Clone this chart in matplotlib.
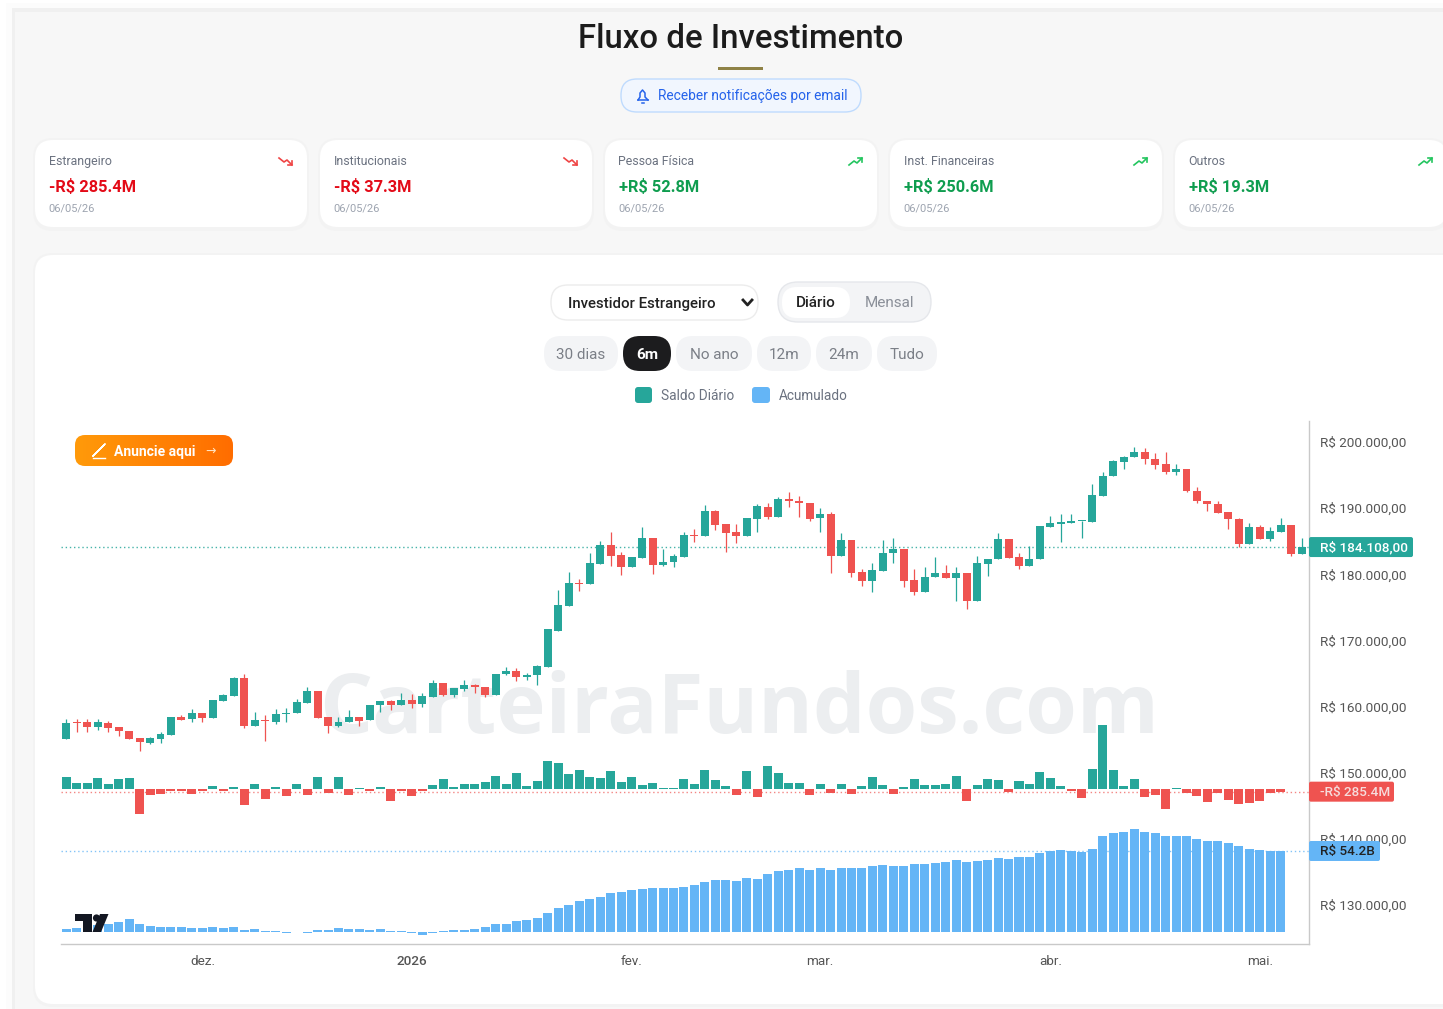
import numpy as np
import matplotlib
matplotlib.use('Agg')
import matplotlib.pyplot as plt
from matplotlib.patches import FancyBboxPatch, Rectangle, Circle, Polygon
from matplotlib.ticker import FuncFormatter
from matplotlib.colors import LinearSegmentedColormap

plt.rcParams['font.family'] = ['Roboto', 'DejaVu Sans']

# candles, R$ thousands
opens = [155.03,157.65,157.60,156.89,157.55,156.84,156.34,155.18,154.48,155.03,155.69,158.41,158.05,158.96,158.26,160.88,161.53,164.25,157.10,158.00,
         157.70,158.86,159.01,160.52,162.39,158.41,157.05,157.60,158.36,157.90,160.22,160.78,160.17,160.98,160.32,161.48,163.55,161.73,162.69,163.20,
         162.99,161.73,164.91,165.41,164.51,164.71,166.00,171.47,175.25,178.68,178.47,181.60,184.47,182.91,181.10,182.46,185.48,181.40,181.80,182.66,
         185.98,185.73,189.61,187.55,186.39,185.73,188.30,190.22,188.60,191.33,191.13,190.82,188.45,189.06,182.81,185.13,180.29,179.03,180.54,183.21,
         183.77,179.13,177.32,179.59,180.15,179.44,180.15,175.96,181.61,182.27,185.29,182.57,181.31,182.27,187.20,187.61,187.76,188.01,187.96,191.89,
         194.81,197.03,197.69,198.49,197.43,196.63,195.52,195.92,192.65,191.13,190.58,189.42,188.41,184.53,187.20,185.39,186.45,187.51,183.02]
closes = [157.55,157.55,156.89,157.60,156.74,156.24,155.03,154.58,155.18,155.84,158.41,157.90,158.96,158.26,160.98,161.68,164.25,157.05,158.00,157.80,
          158.91,159.06,160.63,162.39,158.26,157.05,157.70,158.41,157.85,160.27,160.78,160.17,160.98,160.32,161.63,163.55,161.73,162.84,163.20,162.94,
          161.68,164.91,165.41,164.51,164.76,166.07,171.66,175.35,178.63,178.47,181.75,184.47,182.81,181.10,182.61,185.48,181.45,181.85,182.76,185.98,
          185.73,189.61,187.45,186.29,185.73,188.45,190.32,188.66,191.33,191.07,190.72,188.40,189.06,182.81,185.13,180.24,179.03,180.64,183.26,183.82,
          179.03,177.32,179.63,180.15,179.39,180.15,175.96,181.66,182.37,185.29,182.42,181.31,182.37,187.30,187.71,187.91,188.06,188.11,191.99,194.92,
          197.18,197.79,198.54,197.38,196.53,195.47,195.97,192.55,191.03,190.58,189.32,188.31,184.53,187.20,185.39,186.50,187.51,183.02,184.11]
highs = [158.10,158.05,158.16,158.16,157.80,156.84,156.34,155.18,155.43,156.14,158.41,158.71,159.57,159.06,160.98,161.83,164.40,164.91,159.11,158.71,
         159.57,159.72,161.18,162.89,162.39,158.41,158.41,159.42,158.36,160.27,160.88,160.98,161.99,161.83,161.99,164.05,163.55,162.84,164.05,163.40,
         162.99,164.91,165.92,165.77,165.01,166.32,171.66,177.62,180.29,179.28,183.26,184.98,186.39,183.41,182.61,187.19,185.48,183.82,183.06,186.34,
         186.84,190.47,189.71,187.55,187.55,188.55,190.57,190.72,191.73,192.49,191.88,190.82,189.97,189.36,186.19,185.13,180.79,181.75,185.13,185.53,
         183.77,180.84,181.05,182.57,181.41,181.05,180.15,182.77,182.37,186.18,185.29,183.27,184.28,187.30,188.87,189.07,189.07,188.11,193.60,195.42,
         197.28,197.89,199.20,199.05,198.29,198.54,196.68,195.92,193.25,191.13,191.13,189.42,188.51,187.71,187.51,187.20,188.56,187.51,185.44]
lows = [155.03,156.19,156.19,156.39,156.19,155.53,155.03,153.32,154.33,154.53,155.69,157.90,157.70,157.70,158.26,160.88,161.53,156.74,157.10,154.83,
        157.35,157.70,159.01,160.52,158.26,156.04,156.95,157.60,157.05,157.90,159.11,159.42,160.17,159.77,159.97,161.48,161.58,161.48,162.39,162.09,
        161.48,161.73,164.76,163.80,164.00,163.25,166.00,171.47,175.25,177.52,178.47,181.60,181.25,179.89,181.10,182.46,180.04,181.30,181.05,182.66,
        184.88,185.73,186.69,183.31,184.67,185.73,186.44,188.35,188.60,190.12,188.60,188.10,186.44,180.14,182.81,179.53,178.27,177.27,180.54,181.75,
        178.12,176.91,177.32,179.59,179.39,175.96,174.70,175.96,179.74,182.27,182.42,180.75,181.31,182.27,187.20,184.84,187.76,185.54,187.96,191.89,
        194.81,195.97,197.69,196.68,195.97,195.22,195.02,192.40,190.73,189.62,189.32,186.85,184.13,184.53,185.29,185.04,186.45,182.72,183.02]

# saldo diario, R$ millions
saldo = [1285,678,678,1142,536,1035,1142,-2678,-643,-500,-250,-250,-500,-250,321,-179,179,-1714,536,-1107,
         179,-750,536,-643,1285,-393,1285,-643,71,-179,179,-1250,-179,-750,-250,428,1035,179,536,536,
         785,1392,536,1749,321,893,2963,2820,1642,2035,1250,1142,1892,785,1250,428,678,107,107,1035,
         571,2035,928,321,-643,1892,-893,2499,1749,678,678,-643,571,-393,571,-536,321,1250,428,-536,
         214,1035,428,428,571,1392,-1250,428,1035,928,-286,821,571,1785,1178,321,-214,-1000,2106,6890,
         2035,321,1035,-893,-643,-2106,107,-393,-785,-1392,-393,-1142,-1642,-1499,-1250,-393,-285.4]

# acumulado, R$ billions
acumulado = [2.0,2.9,3.6,4.7,5.6,6.5,8.5,5.1,4.2,3.6,3.6,3.6,2.9,2.9,3.6,2.9,3.6,1.6,2.2,0.7,
             0.7,-0.9,-0.2,-0.9,1.6,1.6,2.9,2.2,2.2,1.6,2.2,0.7,0.7,-0.9,-1.8,-0.9,0.7,1.6,1.6,2.2,
             3.6,5.1,5.1,7.4,8.3,9.1,12.7,16.1,18.3,20.5,22.1,23.6,25.9,26.8,28.1,28.8,29.7,29.7,29.7,30.3,
             31.2,33.5,35.0,35.0,34.1,36.3,35.7,38.8,41.0,41.7,42.6,41.7,42.6,41.7,42.6,42.6,42.6,44.2,44.8,44.2,
             44.2,45.5,45.5,45.9,46.6,48.4,46.6,47.5,48.2,49.7,49.1,50.4,50.4,52.9,54.2,55.1,54.4,53.7,55.8,64.0,
             66.2,67.1,68.7,67.1,66.2,64.0,64.0,64.0,62.4,61.1,61.1,59.3,57.8,55.8,55.1,54.2,54.2]

price_ticks = [130, 140, 150, 160, 170, 180, 190, 200]
month_pos = [13, 33, 54, 72, 94, 114]
month_labels = ['dez.', '2026', 'fev.', 'mar.', 'abr.', 'mai.']

last_price = 184.108
last_saldo = -285.4
last_acum = 54.2

card_names = ['Estrangeiro', 'Institucionais', 'Pessoa Física', 'Inst. Financeiras', 'Outros']
card_values = ['-R$ 285.4M', '-R$ 37.3M', '+R$ 52.8M', '+R$ 250.6M', '+R$ 19.3M']
card_date = '06/05/26'
range_labels = ['30 dias', '6m', 'No ano', '12m', '24m', 'Tudo']

GREEN = '#26a69a'
RED = '#ef5350'
BLUE = '#64b5f6'

W, H = 1443, 1009
fig = plt.figure(figsize=(W / 100, H / 100), dpi=100, facecolor='white')


def pixel_axes(z):
    a = fig.add_axes([0, 0, 1, 1], zorder=z)
    a.set_xlim(0, W)
    a.set_ylim(H, 0)
    a.axis('off')
    a.patch.set_alpha(0)
    return a


def box(a, x0, y0, x1, y1, r, fc, ec='none', lw=1, z=1):
    p = FancyBboxPatch((x0, y0), x1 - x0, y1 - y0, boxstyle='round,pad=0,rounding_size=%s' % r,
                       fc=fc, ec=ec, lw=lw, zorder=z)
    a.add_patch(p)
    return p


ui = pixel_axes(0)
over = pixel_axes(6)

# page background
ui.add_patch(Rectangle((6, 3), W, H, fc='#fcfcfc', ec='none', zorder=0))
ui.add_patch(Rectangle((12, 8), W, H, fc='#f0f0f0', ec='none', zorder=0))
ui.add_patch(Rectangle((15, 12), W, H, fc='#f7f7f7', ec='none', zorder=0))

ui.text(741, 39.5, 'Fluxo de Investimento', fontsize=23.8, color='#1c1c1c', ha='center', va='center', fontweight='medium')
ui.add_patch(Rectangle((718, 67), 45, 3, fc='#8f8246', ec='none'))

# notification button
box(ui, 621, 79, 861, 112, 16, '#f1f6fe', '#bfdbfe')
ui.text(658, 96, 'Receber notificações por email', fontsize=9.9, color='#2563eb', ha='left', va='center')
bell = [(638, 100), (640, 97), (640, 93), (642.5, 90), (645, 93), (645, 97), (648, 100)]
ui.plot([p[0] for p in bell], [p[1] for p in bell], color='#2563eb', lw=1.1)
ui.plot([638, 648], [100, 100], color='#2563eb', lw=1.1)
ui.plot([641.5, 643.5], [102.5, 102.5], color='#2563eb', lw=1.1)

# summary cards
card_lefts = [35, 320, 605, 890, 1175]
for left, name, value in zip(card_lefts, card_names, card_values):
    right = left + 272
    box(ui, left - 2, 138, right + 2, 231, 20, '#f3f3f3', z=1)
    box(ui, left, 140, right, 227, 18, 'white', z=2)
    down = value.startswith('-')
    col = '#e30a17' if down else '#0f9d4f'
    ui.text(left + 13.5, 161.5, name, fontsize=8.9, color='#6b7280', va='center', zorder=3)
    ui.text(left + 14, 186.5, value, fontsize=11.8, color=col, va='center', fontweight='bold', zorder=3)
    ui.text(left + 13.5, 208.5, card_date, fontsize=7.9, color='#9ca3af', va='center', zorder=3)
    ix = left + 244
    if down:
        ui.plot([ix, ix + 5, ix + 8, ix + 13], [158, 162, 160, 165], color='#ef4444', lw=1.2, zorder=3)
        ui.plot([ix + 13, ix + 13, ix + 9], [161, 165, 165], color='#ef4444', lw=1.2, zorder=3)
    else:
        ui.plot([ix, ix + 5, ix + 8, ix + 13], [165, 161, 163, 158], color='#22c55e', lw=1.2, zorder=3)
        ui.plot([ix + 9, ix + 13, ix + 13], [158, 158, 162], color='#22c55e', lw=1.2, zorder=3)

# main card
box(ui, 33, 253, W + 40, 1007, 20, '#f3f3f3', z=1)
box(ui, 35, 255, W + 40, 1004, 18, 'white', z=2)

# selector and toggle
box(ui, 551, 285, 758, 320, 17, 'white', '#ececec', z=3)
ui.text(568, 304, 'Investidor Estrangeiro', fontsize=10.8, color='#222222', va='center', zorder=4, fontweight='medium')
ui.plot([743, 747.5, 752], [300, 305, 300], color='#222222', lw=2, zorder=4)
box(ui, 778, 282, 931, 322, 20, '#f3f4f6', '#e5e7eb', z=3)
box(ui, 782, 287, 850, 318, 15, 'white', z=4)
ui.text(816, 303, 'Diário', fontsize=11, color='#222222', ha='center', va='center', zorder=5, fontweight='medium')
ui.text(889, 303, 'Mensal', fontsize=11, color='#8a8f98', ha='center', va='center', zorder=5)

# range pills
pill_x = [(544, 618), (623, 671), (676, 752), (757, 811), (816, 872), (877, 937)]
for (x0, x1), lab in zip(pill_x, range_labels):
    active = lab == '6m'
    box(ui, x0, 336, x1, 371, 17, '#1c1c1e' if active else '#f3f4f6', z=3)
    ui.text((x0 + x1) / 2, 355, lab, fontsize=11, color='white' if active else '#7b7f87', ha='center', va='center',
            fontweight='bold' if active else 'normal', zorder=4)

# legend
box(ui, 635, 387, 652, 403, 3, GREEN, z=3)
ui.text(661, 395.5, 'Saldo Diário', fontsize=9.8, color='#6b7280', va='center', zorder=4)
box(ui, 752, 387, 770, 403, 3, BLUE, z=3)
ui.text(779, 395.5, 'Acumulado', fontsize=9.8, color='#6b7280', va='center', zorder=4)

# watermark
ui.text(739, 711, 'CarteiraFundos.com', fontsize=60, color='#eceef0', ha='center', va='center', fontweight='bold', zorder=3,
        family='Open Sans')

# chart axes
rect = [61 / W, 1 - 944 / H, (1309 - 61) / W, (944 - 421) / H]
x_lim = (-0.506, 118.7)
ax_acum = fig.add_axes(rect, zorder=2)
ax_saldo = fig.add_axes(rect, zorder=3)
ax = fig.add_axes(rect, zorder=4)

ax_acum.set_ylim(-8.03, 341.9)
ax_saldo.set_ylim(-16600, 39413)
ax.set_ylim(124.05, 203.18)
for a in (ax_acum, ax_saldo, ax):
    a.set_xlim(*x_lim)
    a.patch.set_alpha(0)
for a in (ax_acum, ax_saldo):
    a.axis('off')

ax_acum.bar(np.arange(len(acumulado)), acumulado, width=0.86, color=BLUE, zorder=2)
ax_acum.axhline(last_acum, color=BLUE, lw=1, ls=(0, (1, 2)), alpha=0.8, zorder=1)

saldo_cols = [GREEN if v >= 0 else RED for v in saldo]
ax_saldo.bar(np.arange(len(saldo)), saldo, width=0.86, color=saldo_cols, zorder=2)
ax_saldo.axhline(last_saldo, color=RED, lw=1, ls=(0, (1, 2)), alpha=0.7, zorder=1)

ax.axhline(last_price, color=GREEN, lw=1, ls=(0, (1, 2)), alpha=0.85, zorder=1)
for i in range(len(opens)):
    col = GREEN if closes[i] >= opens[i] else RED
    ax.plot([i, i], [lows[i], highs[i]], color=col, lw=0.9, solid_capstyle='butt', zorder=2)
    ax.add_patch(Rectangle((i - 0.38, min(opens[i], closes[i])), 0.76, max(abs(closes[i] - opens[i]), 0.12),
                           fc=col, ec='none', zorder=3))

ax.yaxis.tick_right()
ax.set_yticks(price_ticks)
ax.yaxis.set_major_formatter(FuncFormatter(lambda v, p: 'R$ %d.000,00' % v))
ax.set_xticks(month_pos)
ax.set_xticklabels(month_labels)
ax.tick_params(axis='y', length=0, pad=8, labelsize=9.7, labelcolor='#555555')
ax.tick_params(axis='x', length=0, pad=8, labelsize=9.7, labelcolor='#555555')
ax.get_xticklabels()[1].set_fontweight('medium')
for s in ('top', 'left'):
    ax.spines[s].set_visible(False)
for s in ('right', 'bottom'):
    ax.spines[s].set_color('#c9c9c9')
    ax.spines[s].set_linewidth(1)

fig.canvas.draw()


def tag(axis, value, x1, text, bg, fg):
    yp = over.transData.inverted().transform(axis.transData.transform((0, value)))[1]
    over.add_patch(FancyBboxPatch((1309, yp - 10), x1 - 1309, 20, boxstyle='round,pad=0,rounding_size=2', fc=bg, ec='none'))
    over.text(1320, yp + 1, text, fontsize=9.7, color=fg, va='center', fontweight='medium')


tag(ax, last_price, 1413, 'R$ 184.108,00', GREEN, 'white')
tag(ax_saldo, last_saldo, 1394, '-R$ 285.4M', RED, '#f6dcdc')
tag(ax_acum, last_acum, 1380, 'R$ 54.2B', BLUE, '#222222')

# chart logo
over.add_patch(Polygon([(75, 914), (92, 914), (92, 932), (83, 932), (83, 921), (75, 921)], fc='#131722', ec='none'))
over.add_patch(Circle((96.5, 918), 3.6, fc='#131722', ec='none'))
over.add_patch(Polygon([(100, 914), (108.5, 914), (101, 932), (92.5, 932)], fc='#131722', ec='none'))

# ad button
btn = box(over, 75, 435, 233, 466, 10, 'none')
cmap = LinearSegmentedColormap.from_list('btn', ['#ff9a0a', '#ff6d00'])
img = over.imshow(np.linspace(0, 1, 100).reshape(1, -1), extent=(75, 233, 466, 435), cmap=cmap, aspect='auto', zorder=1)
img.set_clip_path(btn)
over.set_xlim(0, W)
over.set_ylim(H, 0)
over.text(114, 452, 'Anuncie aqui', fontsize=10, color='white', va='center', fontweight='bold', zorder=3)
over.plot([93, 100, 105, 98, 93, 93], [456, 449, 444, 451, 456, 456], color='white', lw=1, zorder=3)
over.plot([93, 105], [458, 458], color='white', lw=1, zorder=3)
over.text(211, 451, '→', fontsize=9, color='#ffe3c0', ha='center', va='center', zorder=3, family='DejaVu Sans')

fig.savefig('out.png', dpi=100)
